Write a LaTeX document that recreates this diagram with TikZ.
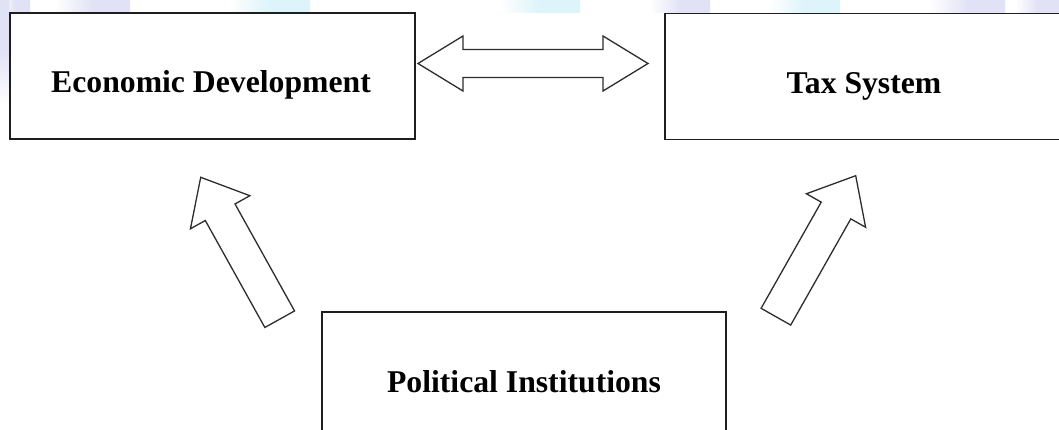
\documentclass[tikz,border=0pt]{standalone}
\usepackage{fontspec}
\setmainfont{Liberation Serif}
\usetikzlibrary{calc}
\definecolor{boxline}{RGB}{30,30,30}
\definecolor{arrowline}{RGB}{45,45,45}
\definecolor{wmlav}{RGB}{226,226,246}
\definecolor{wmcyan}{RGB}{220,244,250}

% block arrow from tail #1 to tip #2
\newcommand{\blockarrow}[2]{%
  \coordinate (#2-base) at ($(#2)!40pt!(#1)$);
  \draw[blockarrow] ($(#1)!17pt!90:(#2)$) -- ($(#2-base)!17pt!-90:(#1)$) -- ($(#2-base)!34pt!-90:(#1)$) -- (#2)
    -- ($(#2-base)!34pt!90:(#1)$) -- ($(#2-base)!17pt!90:(#1)$) -- ($(#1)!17pt!-90:(#2)$) -- cycle;}
% block arrow with a head at both ends
\newcommand{\twowayarrow}[2]{%
  \coordinate (#1-base) at ($(#1)!45pt!(#2)$);
  \coordinate (#2-base) at ($(#2)!45pt!(#1)$);
  \draw[blockarrow] (#1) -- ($(#1-base)!27.5pt!90:(#2)$) -- ($(#1-base)!14pt!90:(#2)$) -- ($(#2-base)!14pt!-90:(#1)$)
    -- ($(#2-base)!27.5pt!-90:(#1)$) -- (#2) -- ($(#2-base)!27.5pt!90:(#1)$) -- ($(#2-base)!14pt!90:(#1)$)
    -- ($(#1-base)!14pt!-90:(#2)$) -- ($(#1-base)!27.5pt!-90:(#2)$) -- cycle;}

\begin{document}
\begin{tikzpicture}[x=1pt,y=-1pt]
\tikzset{box/.style = {draw=boxline, line width=1.6pt, fill=white, minimum width=405pt, minimum height=126pt, inner sep=0pt}}
\tikzset{boxtext/.style = {anchor=base, inner sep=0pt, font=\bfseries\fontsize{31.7}{38}\selectfont}}
\tikzset{blockarrow/.style = {draw=arrowline, line width=1.3pt, fill=white, line join=miter}}
\clip (0,0) rectangle (1059,430);
\fill[white] (0,0) rectangle (1059,430);
% faint background marks
\foreach \xa/\xb/\col in {0/30/wmlav, 55/130/wmlav, 230/310/wmcyan, 500/580/wmcyan, 650/710/wmlav, 770/840/wmcyan, 930/1005/wmlav, 1015/1059/wmlav}
  \shade[left color=white, right color=\col, middle color=\col] (\xa,0) rectangle (\xb,13);
\shade[top color=wmlav, bottom color=white, middle color=wmlav] (0,0) rectangle (9,105);
% boxes
\node[box](econ) at (212.5,76) {};
\node[box, minimum width=400pt](tax) at (865,76.5) {};
\node[box, minimum width=404pt](pol) at (524,375) {};
\node[boxtext](econlbl) at ([xshift=-1.5pt, yshift=-17pt]econ.center) {Economic Development};
\node[boxtext](taxlbl) at ([xshift=-1pt, yshift=-17pt]tax.center) {Tax System};
\node[boxtext](pollbl) at ([yshift=-17pt]pol.center) {Political Institutions};
% arrows
\coordinate (etip) at (418,63.5);
\coordinate (ttip) at (648,63.5);
\coordinate (ltail) at (279.7,319.2);
\coordinate (ltip) at (200.7,177.3);
\coordinate (rtail) at (775.9,316.7);
\coordinate (rtip) at (855.7,175.7);
\twowayarrow{etip}{ttip}
\blockarrow{ltail}{ltip}
\blockarrow{rtail}{rtip}
\end{tikzpicture}
\end{document}
